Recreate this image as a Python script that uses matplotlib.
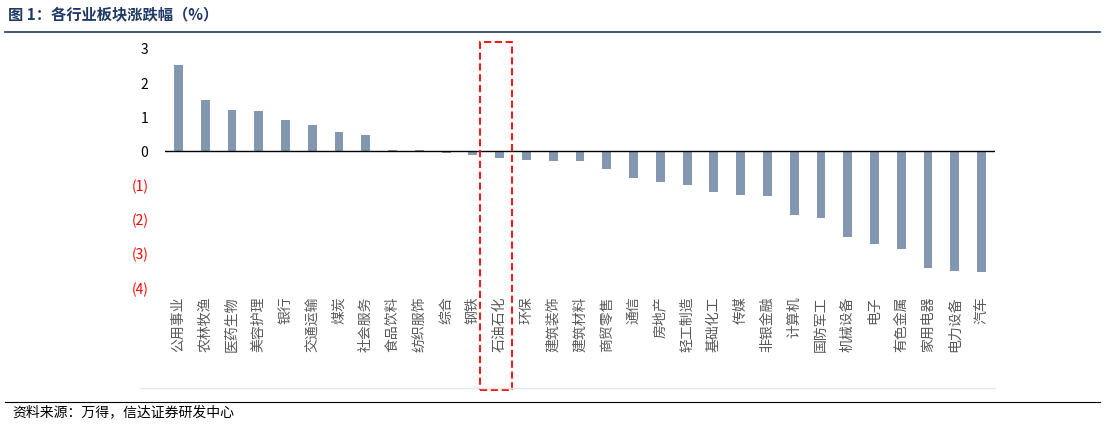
import matplotlib
matplotlib.use("Agg")
import matplotlib.pyplot as plt
from matplotlib.patches import Rectangle
from matplotlib.lines import Line2D

plt.rcParams['font.family'] = ['Noto Sans CJK SC', 'DejaVu Sans']

categories = ["公用事业","农林牧渔","医药生物","美容护理","银行","交通运输","煤炭","社会服务","食品饮料","纺织服饰",
              "综合","钢铁","石油石化","环保","建筑装饰","建筑材料","商贸零售","通信","房地产","轻工制造",
              "基础化工","传媒","非银金融","计算机","国防军工","机械设备","电子","有色金属","家用电器","电力设备","汽车"]
values = [2.53,1.50,1.20,1.18,0.92,0.76,0.58,0.47,0.05,0.03,
          -0.05,-0.10,-0.18,-0.25,-0.27,-0.29,-0.52,-0.78,-0.90,-0.97,
          -1.18,-1.27,-1.32,-1.87,-1.95,-2.50,-2.70,-2.85,-3.42,-3.50,-3.53]
yticks = [3,2,1,0,-1,-2,-3,-4]
ytick_labels = ["3","2","1","0","(1)","(2)","(3)","(4)"]

W, H = 1107, 426
fig = plt.figure(figsize=(W/100, H/100), dpi=100)
ax = fig.add_axes([165/W, 1-288/H, (995-165)/W, (288-49)/H])
x = range(len(categories))
ax.bar(x, values, width=0.33, color="#8497b0")
ax.axhline(0, color="black", lw=1)
ax.set_xlim(-0.5, len(categories)-0.5)
ax.set_ylim(-4, 3)
ax.set_yticks(yticks)
ax.set_yticklabels(ytick_labels, fontsize=10)
for t, v in zip(ax.get_yticklabels(), yticks):
    t.set_color("red" if v < 0 else "black")
ax.tick_params(axis='y', length=0, pad=12)
ax.set_xticks([])
for s in ax.spines.values():
    s.set_visible(False)
for i, c in enumerate(categories):
    ax.text(i, -4.25, c, rotation=90, ha='center', va='top', fontsize=10, color="#595959")

fig.patches.append(Rectangle((480/W, 1-390/H), (512-480)/W, (390-42)/H, transform=fig.transFigure,
                             fill=False, ec="red", ls=(0, (4, 2)), lw=1.3))

fig.text(8/W, 1-14/H, "图 1：各行业板块涨跌幅（%）", fontsize=11, fontweight='bold', color="#1f3864", va='center')
fig.lines.append(Line2D([5/W, 1100/W], [1-32/H, 1-32/H], transform=fig.transFigure, color="#1f3864", lw=1.2))
fig.lines.append(Line2D([140/W, 995/W], [1-388/H, 1-388/H], transform=fig.transFigure, color="#e6e6e6", lw=1))
fig.lines.append(Line2D([5/W, 1100/W], [1-402/H, 1-402/H], transform=fig.transFigure, color="black", lw=0.8))
fig.text(12/W, 1-412/H, "资料来源：万得，信达证券研发中心", fontsize=10, style='italic', va='center')

fig.savefig("out.png", dpi=100)
